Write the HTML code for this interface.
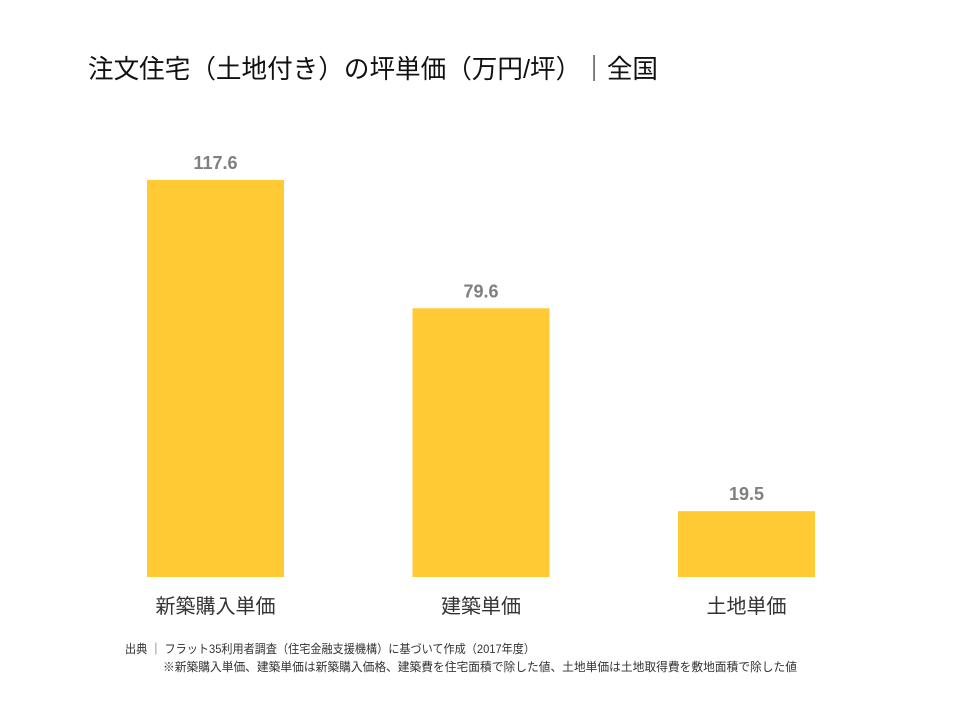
<!DOCTYPE html>
<html><head><meta charset="utf-8"><style>
body{margin:0;background:#fff;}
svg text{font-family:"Liberation Sans","Noto Sans CJK JP",sans-serif;}
</style></head><body>
<svg id="chart" width="960" height="720" viewBox="0 0 960 720" xmlns="http://www.w3.org/2000/svg">
<text x="88" y="78" font-size="26" fill="#111" textLength="570" lengthAdjust="spacingAndGlyphs">注文住宅（土地付き）の坪単価（万円/坪）｜全国</text>
<g id="bars"></g>
<text x="125" y="653" font-size="12" fill="#333" textLength="410" lengthAdjust="spacingAndGlyphs">出典 ｜ フラット35利用者調査（住宅金融支援機構）に基づいて作成（2017年度）</text>
<text x="163" y="671" font-size="12" fill="#333" textLength="634" lengthAdjust="spacingAndGlyphs">※新築購入単価、建築単価は新築購入価格、建築費を住宅面積で除した値、土地単価は土地取得費を敷地面積で除した値</text>
</svg>
<script>
const categories=["新築購入単価","建築単価","土地単価"];
const values=[117.6,79.6,19.5];
const valueLabels=["117.6","79.6","19.5"];
const baseY=577, pxPerUnit=397/117.6, barW=137, x0=147, step=265.5;
const yScale=v=>baseY-v*pxPerUnit;
const xScale=i=>x0+i*step;
const g=document.getElementById('bars');
const NS="http://www.w3.org/2000/svg";
values.forEach((v,i)=>{
  const r=document.createElementNS(NS,'rect');
  
  
  r.setAttribute('x',xScale(i));r.setAttribute('y',yScale(v));
  r.setAttribute('width',barW);r.setAttribute('height',baseY-yScale(v));
  r.setAttribute('fill','#FFCA33');g.appendChild(r);
  const t=document.createElementNS(NS,'text');
  
  
  t.setAttribute('x',xScale(i)+barW/2);t.setAttribute('y',yScale(v)-11);
  t.setAttribute('text-anchor','middle');t.setAttribute('font-size','18');
  t.setAttribute('font-weight','bold');t.setAttribute('fill','#7f7f7f');
  t.textContent=valueLabels[i];g.appendChild(t);
  const c=document.createElementNS(NS,'text');
  
  
  c.setAttribute('x',xScale(i)+barW/2);c.setAttribute('y',613);
  c.setAttribute('text-anchor','middle');c.setAttribute('font-size','20');
  c.setAttribute('fill','#333');
  c.textContent=categories[i];g.appendChild(c);
});
</script>
</body></html>
